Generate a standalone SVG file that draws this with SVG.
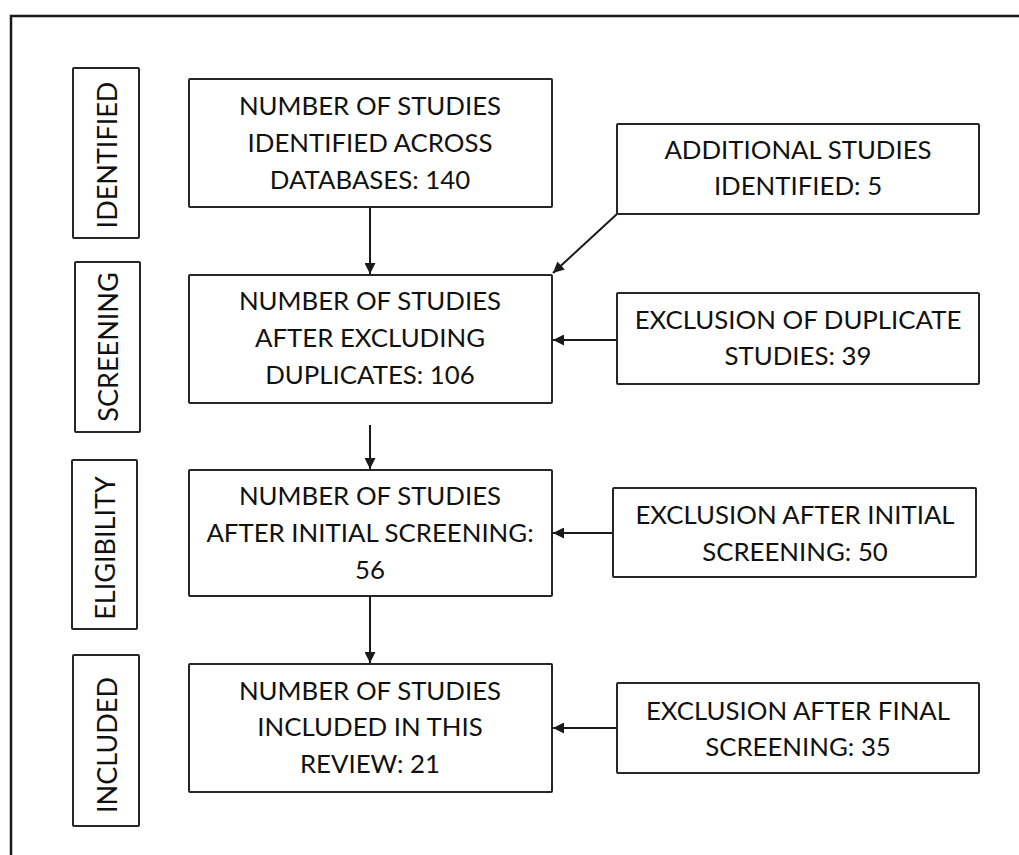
<svg xmlns="http://www.w3.org/2000/svg" width="1019" height="855" viewBox="0 0 1019 855">
<style>
.box{fill:#fff;stroke:#262626;stroke-width:2}
.t{font-family:Lato,"Liberation Sans",sans-serif;font-size:25.8px;fill:#111;text-anchor:middle}
.s{font-family:Lato,"Liberation Sans",sans-serif;font-size:27px;fill:#111;text-anchor:middle}
.c{stroke:#1a1a1a;stroke-width:2;fill:none;marker-end:url(#ah)}
</style>
<defs>
<marker id="ah" viewBox="0 0 10 10" refX="10" refY="5" markerWidth="6" markerHeight="5.5" orient="auto" markerUnits="strokeWidth">
<path d="M0,0 L10,5 L0,10 z" fill="#1a1a1a"/>
</marker>
</defs>
<rect width="1019" height="855" fill="#fff"/>
<path d="M11,855 V16 H1019" fill="none" stroke="#1a1a1a" stroke-width="2.5"/>

<g id="label-identified"><rect class="box" x="73" y="68" width="66" height="170" rx="1"/><text class="s" transform="translate(117,155) rotate(-90)">IDENTIFIED</text></g>
<g id="label-screening"><rect class="box" x="75" y="262" width="65" height="170" rx="1"/><text class="s" transform="translate(118,347) rotate(-90)">SCREENING</text></g>
<g id="label-eligibility"><rect class="box" x="72" y="460" width="65" height="169" rx="1"/><text class="s" transform="translate(115,548) rotate(-90)">ELIGIBILITY</text></g>
<g id="label-included"><rect class="box" x="73" y="655" width="66" height="171" rx="1"/><text class="s" transform="translate(117,745) rotate(-90)">INCLUDED</text></g>

<g id="n1"><rect class="box" x="189" y="79" width="363" height="128" rx="1"/>
<text class="t" x="370" y="115">NUMBER OF STUDIES</text><text class="t" x="370" y="152">IDENTIFIED ACROSS</text><text class="t" x="370" y="189">DATABASES: 140</text></g>
<g id="n2"><rect class="box" x="189" y="275" width="363" height="128" rx="1"/>
<text class="t" x="370" y="310">NUMBER OF STUDIES</text><text class="t" x="370" y="347">AFTER EXCLUDING</text><text class="t" x="370" y="384">DUPLICATES: 106</text></g>
<g id="n3"><rect class="box" x="189" y="470" width="363" height="126" rx="1"/>
<text class="t" x="370" y="505">NUMBER OF STUDIES</text><text class="t" x="370" y="542">AFTER INITIAL SCREENING:</text><text class="t" x="370" y="579">56</text></g>
<g id="n4"><rect class="box" x="189" y="664" width="363" height="128" rx="1"/>
<text class="t" x="370" y="700">NUMBER OF STUDIES</text><text class="t" x="370" y="736">INCLUDED IN THIS</text><text class="t" x="370" y="773">REVIEW: 21</text></g>

<g id="r1"><rect class="box" x="617" y="124" width="362" height="90" rx="1"/>
<text class="t" x="798" y="159">ADDITIONAL STUDIES</text><text class="t" x="798" y="195">IDENTIFIED: 5</text></g>
<g id="r2"><rect class="box" x="617" y="293" width="362" height="91" rx="1"/>
<text class="t" x="798" y="329">EXCLUSION OF DUPLICATE</text><text class="t" x="798" y="365">STUDIES: 39</text></g>
<g id="r3"><rect class="box" x="613" y="488" width="363" height="89" rx="1"/>
<text class="t" x="795" y="524">EXCLUSION AFTER INITIAL</text><text class="t" x="795" y="561">SCREENING: 50</text></g>
<g id="r4"><rect class="box" x="617" y="683" width="362" height="90" rx="1"/>
<text class="t" x="798" y="720">EXCLUSION AFTER FINAL</text><text class="t" x="798" y="756">SCREENING: 35</text></g>

<g id="connectors">
<line class="c" x1="370" y1="207" x2="370" y2="274"/>
<line class="c" x1="370" y1="425" x2="370" y2="469"/>
<line class="c" x1="370" y1="596" x2="370" y2="663"/>
<line class="c" x1="617" y1="214" x2="553" y2="273"/>
<line class="c" x1="617" y1="340" x2="553" y2="340"/>
<line class="c" x1="613" y1="533" x2="553" y2="533"/>
<line class="c" x1="617" y1="728" x2="553" y2="728"/>
</g>
</svg>
